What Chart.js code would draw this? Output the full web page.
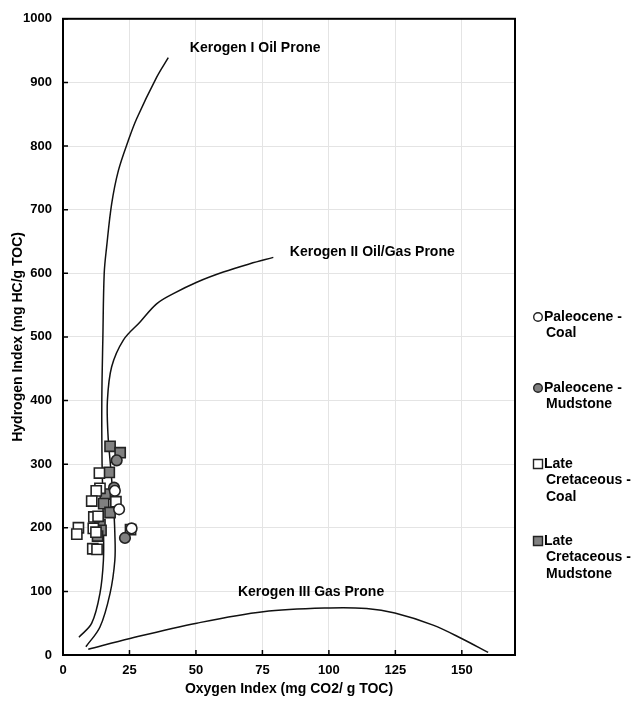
<html><head>
<meta charset="UTF-8">
<title>Hydrogen Index vs Oxygen Index</title>
<script src="https://cdn.jsdelivr.net/npm/chart.js"></script>
<style>
    body { margin: 0; background: #fff; }
    #wrap { width: 631px; height: 712px; position: relative; }
</style>
</head>
<body>
<div id="wrap"><canvas id="vk"></canvas></div>
<script>
    // samples: [oxygen index, hydrogen index]
    const paleoceneCoal = [[19.5, 258], [21.1, 229], [25.8, 199]];
    const paleoceneMudstone = [[20.2, 306], [19.2, 263], [23.3, 184]];
    const cretaceousCoal = [[13.7, 286], [13.9, 262], [12.5, 258], [10.8, 242], [19.9, 241],
        [11.6, 217], [13.2, 218], [11.4, 199], [5.8, 200], [5.2, 190], [12.4, 193],
        [11.2, 167], [12.8, 166], [25.4, 197]];
    const cretaceousMudstone = [[17.7, 328], [21.5, 318], [17.4, 287], [15.9, 253], [15.3, 238],
        [17.7, 224], [13.9, 205], [14.3, 196], [13.0, 187]];

    // kerogen type boundary curves
    const kerogenI = [[6, 28], [10.8, 50], [13.9, 97], [15.2, 149], [15.2, 200], [14.7, 300],
        [14.6, 400], [15.0, 500], [15.5, 600], [16.4, 641], [18.3, 709], [20.8, 761],
        [24.5, 808], [27.7, 843], [35.2, 908], [39.6, 939]];
    const kerogenII = [[8.6, 13], [13.9, 44], [17.7, 97], [19.5, 149], [19.5, 191], [18.9, 243],
        [17.9, 296], [16.9, 348], [16.7, 400], [18.3, 453], [22.7, 495], [28.9, 523],
        [35.2, 552], [41.5, 568], [50.3, 586], [60.3, 602], [70.3, 615], [79.1, 625]];
    const kerogenIII = [[9.5, 9], [25.2, 26], [50.3, 50], [75.3, 68], [100.4, 74], [114.2, 73],
        [124.8, 66], [139.2, 47], [149.9, 26], [159.9, 4]];

    // curve labels: [text, x, y] (left edge, vertical middle)
    const curveLabels = [
        ['Kerogen I Oil Prone', 47.7, 954],
        ['Kerogen II Oil/Gas Prone', 85.3, 633],
        ['Kerogen III Gas Prone', 65.8, 99]
    ];

    const xTicks = [0, 25, 50, 75, 100, 125, 150];

    const toXY = arr => arr.map(p => ({ x: p[0], y: p[1] }));
    const FONT = 'Liberation Sans, Arial, sans-serif';

    const samples = [
        { label: ['Paleocene -', 'Coal'], data: paleoceneCoal, style: 'circle', fill: '#ffffff', r: 5.3 },
        { label: ['Paleocene -', 'Mudstone'], data: paleoceneMudstone, style: 'circle', fill: '#808080', r: 5.3 },
        { label: ['Late', 'Cretaceous -', 'Coal'], data: cretaceousCoal, style: 'rect', fill: '#ffffff', r: 7.2 },
        { label: ['Late', 'Cretaceous -', 'Mudstone'], data: cretaceousMudstone, style: 'rect', fill: '#808080', r: 7.2 }
    ];
    const legendY = [317, 388, 464, 541];

    const curve = pts => ({
        data: toXY(pts),
        showLine: true,
        borderColor: '#111',
        borderWidth: 1.5,
        pointRadius: 0,
        tension: 0.35,
        fill: false
    });

    const frame = {
        id: 'frame',
        afterDraw(chart) {
            const { ctx, chartArea: a, scales: { x, y } } = chart;
            ctx.save();
            // tick marks pointing into the plot
            ctx.strokeStyle = '#000';
            ctx.lineWidth = 1.5;
            ctx.beginPath();
            xTicks.forEach(v => {
                const px = x.getPixelForValue(v);
                ctx.moveTo(px, a.bottom); ctx.lineTo(px, a.bottom - 5);
            });
            y.ticks.forEach(t => {
                const py = y.getPixelForValue(t.value);
                ctx.moveTo(a.left, py); ctx.lineTo(a.left + 5, py);
            });
            ctx.stroke();
            ctx.lineWidth = 2;
            ctx.strokeRect(a.left, a.top, a.right - a.left, a.bottom - a.top);

            // curve labels
            ctx.fillStyle = '#000';
            ctx.font = 'bold 14px ' + FONT;
            ctx.textBaseline = 'middle';
            ctx.textAlign = 'left';
            curveLabels.forEach(([t, vx, vy]) => {
                ctx.fillText(t, x.getPixelForValue(vx), y.getPixelForValue(vy));
            });

            // legend
            samples.forEach((s, i) => {
                const cy = legendY[i];
                ctx.fillStyle = s.fill;
                ctx.strokeStyle = '#222';
                ctx.lineWidth = 1.4;
                ctx.beginPath();
                if (s.style === 'circle') ctx.arc(538, cy, 4.3, 0, Math.PI * 2);
                else ctx.rect(533.5, cy - 4.5, 9, 9);
                ctx.fill(); ctx.stroke();
                ctx.fillStyle = '#000';
                s.label.forEach((line, j) => {
                    ctx.fillText(line, j === 0 ? 544 : 546, cy + j * 16.5);
                });
            });
            ctx.restore();
        }
    };

    new Chart(document.getElementById('vk'), {
        type: 'scatter',
        data: {
            datasets: samples.map(s => ({
                label: s.label.join(' '),
                data: toXY(s.data),
                pointStyle: s.style,
                pointRadius: s.r,
                pointHoverRadius: s.r,
                backgroundColor: s.fill,
                borderColor: '#222',
                borderWidth: 1.6
            })).concat([curve(kerogenI), curve(kerogenII), curve(kerogenIII)])
        },
        options: {
            responsive: true,
            maintainAspectRatio: false,
            animation: false,
            layout: { padding: { top: 18, right: 116, left: 0, bottom: 0 } },
            plugins: {
                legend: { display: false },
                tooltip: { enabled: false }
            },
            scales: {
                x: {
                    type: 'linear',
                    min: 0,
                    max: 170,
                    afterFit(scale) { scale.height = 57; },
                    ticks: {
                        stepSize: 25,
                        includeBounds: false,
                        padding: 8,
                        color: '#000',
                        font: { family: FONT, size: 13, weight: 'bold' }
                    },
                    grid: { color: '#e4e4e4', drawTicks: false },
                    border: { display: false },
                    title: {
                        display: true,
                        text: 'Oxygen Index (mg CO2/ g TOC)',
                        color: '#000',
                        padding: { bottom: 14, top: 0 },
                        font: { family: FONT, size: 14, weight: 'bold' }
                    }
                },
                y: {
                    min: 0,
                    max: 1000,
                    afterFit(scale) { scale.width = 63; },
                    ticks: {
                        stepSize: 100,
                        padding: 11,
                        color: '#000',
                        callback: v => String(v),
                        font: { family: FONT, size: 13, weight: 'bold' }
                    },
                    grid: { color: '#e4e4e4', drawTicks: false },
                    border: { display: false },
                    title: {
                        display: true,
                        text: 'Hydrogen Index (mg HC/g TOC)',
                        color: '#000',
                        padding: { top: 10, bottom: 0 },
                        font: { family: FONT, size: 14, weight: 'bold' }
                    }
                }
            }
        },
        plugins: [frame]
    });
</script>
</body>
</html>
